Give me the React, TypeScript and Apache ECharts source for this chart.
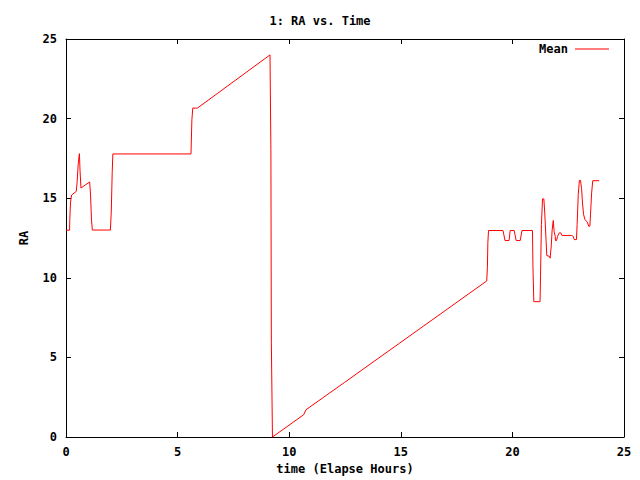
import React, { useEffect, useRef } from "react";
import * as echarts from "echarts";

const titleText = "1: RA vs. Time";
const xName = "time (Elapse Hours)";
const yName = "RA";
const seriesName = "Mean";

const xTicks = [0, 5, 10, 15, 20, 25];
const yTicks = [0, 5, 10, 15, 20, 25];

// [elapsed hours, RA]
const meanEarly: [number, number][] = [
  [0, 12.99], [0.16, 12.99], [0.17, 13.6], [0.2, 14.7], [0.25, 15.2], [0.46, 15.43],
  [0.5, 16.06], [0.55, 17.2], [0.6, 17.8], [0.63, 16.7], [0.67, 15.64], [1.06, 16.02],
  [1.1, 15.2], [1.14, 13.7], [1.18, 13.0], [1.99, 13.0], [2.03, 14.2], [2.07, 16.6],
  [2.1, 17.78], [5.6, 17.78], [5.64, 19.92], [5.68, 20.66], [5.89, 20.66], [9.14, 24.0],
  [9.18, 18.05], [9.2, 5.95], [9.25, 0],
];
const meanRamp: [number, number][] = [
  [10.65, 1.4], [10.75, 1.71], [12.48, 3.43], [14.95, 5.9], [18.85, 9.8],
];
const meanLate: [number, number][] = [
  [18.88, 10.63], [18.9, 12.2], [18.93, 12.97], [19.58, 12.97], [19.67, 12.34],
  [19.85, 12.34], [19.9, 12.97], [20.08, 12.97], [20.17, 12.34], [20.35, 12.34],
  [20.43, 12.97], [20.9, 12.97], [20.92, 10.73], [20.96, 8.5], [21.24, 8.5],
  [21.26, 10.1], [21.3, 13.35], [21.35, 14.96], [21.41, 14.96], [21.45, 14.08],
  [21.51, 12.3], [21.54, 11.4], [21.65, 11.35], [21.69, 11.23], [21.74, 12.0],
  [21.78, 12.99], [21.83, 13.6], [21.87, 12.9], [21.92, 12.6], [21.93, 12.34],
  [21.98, 12.34], [22.02, 12.6], [22.1, 12.82], [22.17, 12.82], [22.22, 12.66],
  [22.65, 12.66], [22.73, 12.6], [22.77, 12.4], [22.87, 12.4], [22.9, 13.35],
  [22.95, 15.22], [23.0, 16.12], [23.05, 16.12], [23.1, 15.6], [23.14, 14.7],
  [23.19, 13.97], [23.25, 13.66], [23.32, 13.55], [23.37, 13.45], [23.42, 13.24],
  [23.47, 13.24], [23.5, 14.0], [23.55, 15.33], [23.6, 16.1], [23.89, 16.1],
];

const FONT = "'DejaVu Sans Mono', monospace";

export default function App() {
  const ref = useRef<HTMLDivElement>(null);
  useEffect(() => {
    if (!ref.current) return;
    const chart = echarts.init(ref.current, undefined, { renderer: "svg" });
    const data = [...meanEarly, ...meanRamp, ...meanLate];
    const textStyle = { fontFamily: FONT, fontSize: 12, fontWeight: "bold" as const, color: "#000" };
    const xBase = {
      type: "value" as const,
      min: xTicks[0],
      max: xTicks[xTicks.length - 1],
      interval: 5,
      splitLine: { show: false },
      axisLine: { show: true, onZero: false, lineStyle: { color: "#000", width: 1 } },
      axisTick: { show: true, inside: true, length: 5, lineStyle: { color: "#000" } },
    };
    const yBase = {
      type: "value" as const,
      min: yTicks[0],
      max: yTicks[yTicks.length - 1],
      interval: 5,
      splitLine: { show: false },
      axisLine: { show: true, onZero: false, lineStyle: { color: "#000", width: 1 } },
      axisTick: { show: true, inside: true, length: 5, lineStyle: { color: "#000" } },
    };
    chart.setOption({
      animation: false,
      backgroundColor: "#fff",
      title: {
        text: titleText,
        left: "center",
        top: 10,
        textStyle: { ...textStyle },
      },
      legend: {
        data: [seriesName],
        right: 26,
        top: 38,
        align: "right",
        itemWidth: 34,
        itemHeight: 1,
        itemGap: 0,
        icon: "rect",
        textStyle: { ...textStyle, padding: [0, 2, 0, 0] },
      },
      grid: { left: 66, right: 16, top: 39, bottom: 42, show: false },
      xAxis: [
        {
          ...xBase,
          position: "bottom",
          name: xName,
          nameLocation: "middle",
          nameGap: 26,
          nameTextStyle: { ...textStyle },
          axisLabel: { ...textStyle, margin: 9 },
        },
        {
          ...xBase,
          position: "top",
          axisLabel: { show: false },
        },
      ],
      yAxis: [
        {
          ...yBase,
          position: "left",
          name: yName,
          nameLocation: "middle",
          nameRotate: 90,
          nameGap: 36,
          nameTextStyle: { ...textStyle },
          axisLabel: { ...textStyle, margin: 9 },
        },
        {
          ...yBase,
          position: "right",
          axisLabel: { show: false },
        },
      ],
      series: [
        {
          name: seriesName,
          type: "line",
          xAxisIndex: 0,
          yAxisIndex: 0,
          data,
          showSymbol: false,
          symbol: "none",
          lineStyle: { color: "#ff0000", width: 1 },
          itemStyle: { color: "#ff0000" },
        },
      ],
    });
    return () => chart.dispose();
  }, []);
  return (
    <div
      ref={ref}
      style={{ position: "fixed", left: 0, top: 0, width: 640, height: 480 }}
    />
  );
}
